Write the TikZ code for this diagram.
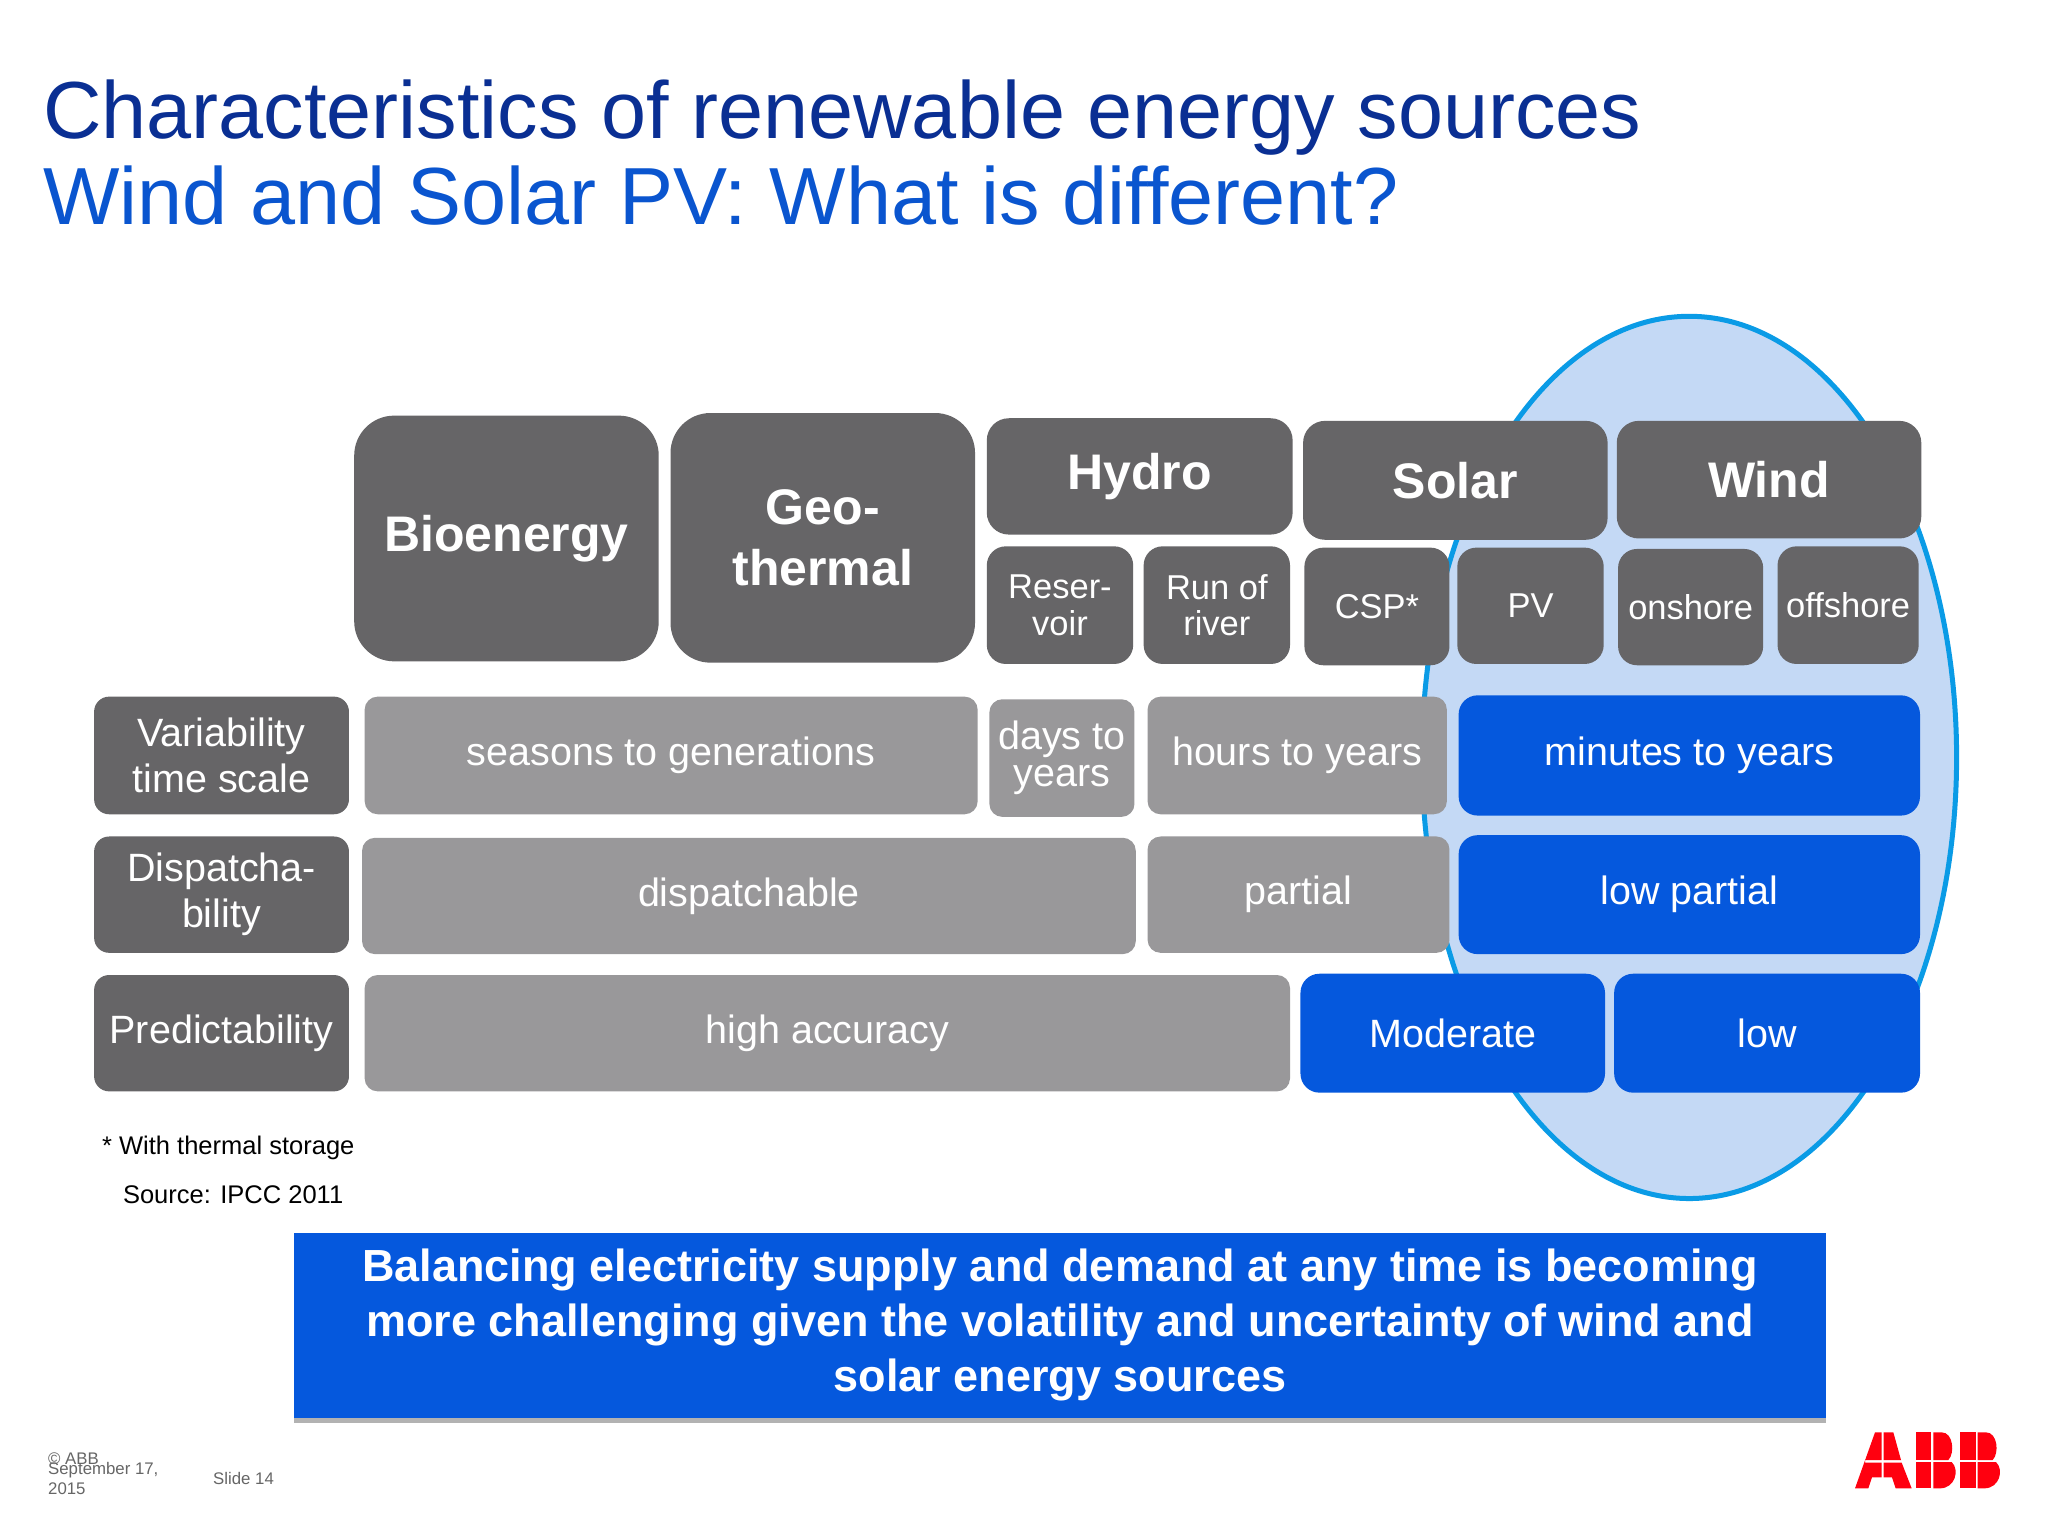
\documentclass[tikz,border=0pt]{standalone}
\usepackage{fontspec}
\setmainfont{Liberation Sans}
\definecolor{navy}{HTML}{0A2F93}
\definecolor{titleblue}{HTML}{0A55CF}
\definecolor{darkcell}{HTML}{666567}
\definecolor{greycell}{HTML}{99989A}
\definecolor{bluecell}{HTML}{0558DD}
\definecolor{ovalfill}{HTML}{C4D9F5}
\definecolor{ovalline}{HTML}{0A9BE6}
\definecolor{footgrey}{HTML}{666666}
\definecolor{abbred}{HTML}{FF000F}
\tikzset{
  cell/.style={rectangle,inner sep=0pt,align=center,text=white},
  darkcell/.style={cell,fill=darkcell},
  greycell/.style={cell,fill=greycell,rounded corners=13pt,font=\fontsize{39.5}{36.6}\selectfont},
  bluecell/.style={cell,fill=bluecell,rounded corners=19pt,font=\fontsize{39.5}{36.6}\selectfont},
  heading/.style={darkcell,rounded corners=22pt,font=\bfseries\fontsize{50}{61.4}\selectfont},
  bigheading/.style={darkcell,rounded corners=40pt,font=\bfseries\fontsize{50}{61.4}\selectfont},
  subcell/.style={darkcell,rounded corners=19pt,font=\fontsize{34.5}{36.6}\selectfont},
  rowlabel/.style={darkcell,rounded corners=15pt,font=\fontsize{39.5}{46}\selectfont},
  titletext/.style={anchor=base west,inner sep=0pt,font=\fontsize{81}{86}\selectfont},
  notetext/.style={anchor=west,inner sep=0pt,font=\fontsize{25.5}{30}\selectfont,text=black},
  foottext/.style={anchor=west,inner sep=0pt,font=\fontsize{16.8}{20}\selectfont,text=footgrey,align=left},
}
\newcommand\cellbox[7]{%
  \pgfmathsetmacro\cbw{(#4-#2)*1.307}%
  \pgfmathsetmacro\cbh{(#5-#3)*1.307}%
  \node[#6,minimum width=\cbw pt,minimum height=\cbh pt] (#1) at ({(#2+#4)/2},{(#3+#5)/2}) {#7};%
}
\begin{document}
\begin{tikzpicture}[x=1.307pt,y=-1.307pt]
\useasboundingbox (0pt,0pt) rectangle (2048pt,-1536pt);
\fill[white] (0pt,0pt) rectangle (2048pt,-1536pt);
% title
\node[titletext,text=navy] (title1) at (33,106) {Characteristics of renewable energy sources};
\node[titletext,text=titleblue] (title2) at (33,172) {Wind and Solar PV: What is different?};
% oval
\draw[fill=ovalfill,draw=ovalline,line width=5pt] (1292.5,579.5) ellipse [x radius=204.5,y radius=337.5];
% top row
\cellbox{bio}{271}{318}{504}{506}{bigheading}{Bioenergy}
\cellbox{geo}{513}{316}{746}{507}{bigheading}{Geo-\\thermal}
\cellbox{hydro}{755}{320}{989}{409}{heading}{Hydro}
\cellbox{solar}{997}{322}{1230}{413}{heading}{Solar}
\cellbox{wind}{1237}{322}{1470}{412}{heading}{Wind}
\cellbox{reser}{755}{418}{867}{508}{subcell}{Reser-\\voir}
\cellbox{river}{875}{418}{987}{508}{subcell}{Run of\\river}
\cellbox{csp}{998}{419}{1109}{509}{subcell}{CSP*}
\cellbox{pv}{1115}{419}{1227}{508}{subcell}{PV}
\cellbox{onshore}{1238}{420}{1349}{509}{subcell}{onshore}
\cellbox{offshore}{1360}{418}{1468}{508}{subcell}{offshore}
% rows
\cellbox{var}{72}{533}{267}{623}{rowlabel}{Variability\\time scale}
\cellbox{seasons}{279}{533}{748}{623}{greycell}{seasons to generations}
\cellbox{days}{757}{535}{868}{625}{greycell}{days to\\years}
\cellbox{hours}{878}{533}{1107}{623}{greycell}{hours to years}
\cellbox{minutes}{1116}{532}{1469}{624}{bluecell}{minutes to years}
\cellbox{disp}{72}{640}{267}{729}{rowlabel}{Dispatcha-\\bility}
\cellbox{dispatchable}{277}{641}{869}{730}{greycell}{dispatchable}
\cellbox{partial}{878}{640}{1109}{729}{greycell}{partial}
\cellbox{lowpartial}{1116}{639}{1469}{730}{bluecell}{low partial}
\cellbox{pred}{72}{746}{267}{835}{rowlabel}{Predictability}
\cellbox{high}{279}{746}{987}{835}{greycell}{high accuracy}
\cellbox{moderate}{995}{745}{1228}{836}{bluecell}{Moderate}
\cellbox{low}{1235}{745}{1469}{836}{bluecell}{low}
% notes
\node[notetext] (note) at (78,878) {* With thermal storage};
\node[notetext] (source) at (94,914) {Source: IPCC 2011};
% banner
\cellbox{bannershadow}{225}{947}{1397}{1089}{rectangle,fill=black!30}{}
\cellbox{banner}{225}{943}{1397}{1085}{cell,fill=bluecell,font=\bfseries\fontsize{45}{55}\selectfont}{Balancing electricity supply and demand at any time is becoming\\more challenging given the volatility and uncertainty of wind and\\solar energy sources}
% footer
\node[foottext] (copy) at (48pt,-1459pt) {© ABB};
\node[foottext] (date) at (48pt,-1478pt) {September 17,\\2015};
\node[foottext] (slide) at (213pt,-1478pt) {Slide 14};
% logo
\begin{scope}[x=0.33333pt,y=-0.33333pt,shift={(1800pt,-1400pt)}]
  \fill[abbred] (165,265) -- (225,97) -- (245,97) -- (245,180) -- (195,180) -- (195,188) -- (245,188) -- (245,232) -- (216,232) -- (205,265) -- cycle;
  \fill[abbred] (251,97) -- (280,97) -- (303,180) -- (251,180) -- cycle;
  \fill[abbred] (251,188) -- (305,188) -- (335,265) -- (287,265) -- (276,232) -- (251,232) -- cycle;
  \fill[abbred] (347,97) -- (394,97) -- (394,180) -- (347,180) -- cycle;
  \fill[abbred] (347,186) -- (394,186) -- (394,265) -- (347,265) -- cycle;
  \fill[abbred] (400,97) -- (425,97) .. controls (460,97) and (465,160) .. (445,180) -- (400,180) -- cycle;
  \fill[abbred] (400,186) -- (455,186) .. controls (480,210) and (465,265) .. (420,265) -- (400,265) -- cycle;
  \fill[abbred] (480,97) -- (527,97) -- (527,180) -- (480,180) -- cycle;
  \fill[abbred] (480,186) -- (527,186) -- (527,265) -- (480,265) -- cycle;
  \fill[abbred] (533,97) -- (558,97) .. controls (593,97) and (598,160) .. (578,180) -- (533,180) -- cycle;
  \fill[abbred] (533,186) -- (588,186) .. controls (613,210) and (598,265) .. (553,265) -- (533,265) -- cycle;
\end{scope}
\end{tikzpicture}
\end{document}
